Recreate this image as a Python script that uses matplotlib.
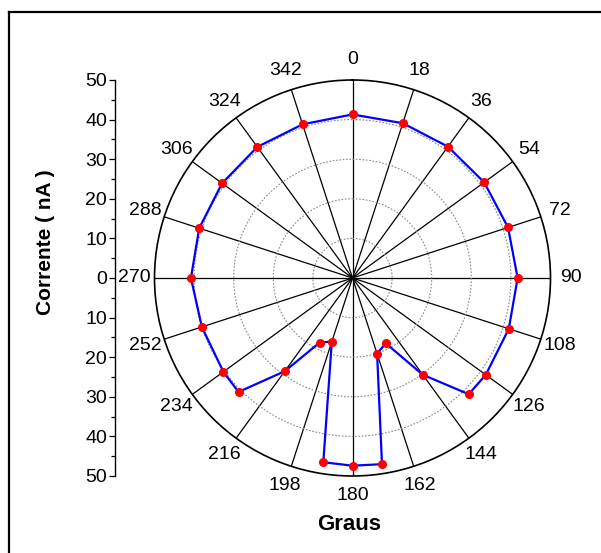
import numpy as np
import matplotlib
matplotlib.use('Agg')
import matplotlib.pyplot as plt
from matplotlib.lines import Line2D

plt.rcParams['font.family'] = ['Liberation Sans', 'DejaVu Sans']

# angle (graus) and current (nA)
angulos = [0, 18, 36, 54, 72, 90, 108, 126, 135, 144, 153, 162, 171, 180,
           189, 198, 207, 216, 225, 234, 252, 270, 288, 306, 324, 342]
corrente = [41.3, 41.1, 41.0, 41.1, 41.3, 41.7, 41.5, 41.6, 41.5, 30.2, 18.5, 20.1, 47.6, 47.4,
            47.1, 16.9, 18.3, 29.1, 40.7, 40.3, 40.0, 40.8, 40.7, 40.7, 40.9, 40.8]

theta_ticks = list(range(0, 360, 18))
theta_minor = list(range(9, 360, 18))
r_ticks = [10, 20, 30, 40]
r_max = 50
escala_ticks = [-50, -40, -30, -20, -10, 0, 10, 20, 30, 40, 50]
escala_minor = [-45, -35, -25, -15, -5, 5, 15, 25, 35, 45]

W, H = 601, 553
fig = plt.figure(figsize=(W / 100, H / 100), dpi=100)

# polar plot
cx, cy, rad = 352.5, 278, 198
ax = fig.add_axes([(cx - rad) / W, (H - cy - rad) / H, 2 * rad / W, 2 * rad / H],
                  projection='polar')
ax.set_theta_zero_location('N')
ax.set_theta_direction(-1)
ax.set_rlim(0, r_max)

th = np.deg2rad(angulos + [angulos[0]])
rr = corrente + [corrente[0]]
ax.plot(th, rr, color='#0000ff', lw=1.6, zorder=3)
ax.plot(np.deg2rad(angulos), corrente, 'o', color='#ff0000', ms=5.5, mec='#ff0000', zorder=4)

ax.set_xticks(np.deg2rad(theta_ticks))
ax.set_xticklabels([str(a) for a in theta_ticks], fontsize=14)
ax.set_xticks(np.deg2rad(theta_minor), minor=True)
ax.tick_params(axis='x', which='major', length=0, pad=7.4)
ax.tick_params(axis='x', which='minor', length=4, direction='in', width=0.8, color='black')
ax.set_yticks(r_ticks)
ax.set_yticklabels([])
ax.tick_params(axis='y', length=0)
ax.xaxis.grid(True, color='black', linestyle='-', lw=0.9)
ax.yaxis.grid(True, color='#888888', linestyle=(0, (1.5, 1.5)), lw=0.8)
ax.spines['polar'].set_color('black')
ax.spines['polar'].set_linewidth(1.2)

# left scale
ax2 = fig.add_axes([114.7 / W, (H - cy - rad) / H, 0.001, 2 * rad / H])
ax2.set_ylim(-r_max, r_max)
ax2.patch.set_visible(False)
for s in ['top', 'right', 'bottom']:
    ax2.spines[s].set_visible(False)
ax2.spines['left'].set_linewidth(1.0)
ax2.set_xticks([])
ax2.set_yticks(escala_ticks)
ax2.set_yticklabels([str(abs(v)) for v in escala_ticks], fontsize=14)
ax2.set_yticks(escala_minor, minor=True)
ax2.tick_params(axis='y', which='major', length=4, width=0.9, pad=1.5)
ax2.tick_params(axis='y', which='minor', length=2.6, width=0.9)

fig.text(45.8 / W, 1 - 241.7 / H, 'Corrente ( nA )', rotation=90, ha='center', va='center',
         fontsize=15, fontweight='bold')
fig.text(348.7 / W, 1 - 525 / H, 'Graus', ha='center', va='center',
         fontsize=16, fontweight='bold')

# outer frame (top and left edges only visible)
x0, y0 = 9.3 / W, 1 - 12 / H
fig.add_artist(Line2D([x0, 1.01], [y0, y0], transform=fig.transFigure, color='black', lw=1.6))
fig.add_artist(Line2D([x0, x0], [-0.01, y0], transform=fig.transFigure, color='black', lw=1.6))

fig.savefig('out.png', dpi=100)
